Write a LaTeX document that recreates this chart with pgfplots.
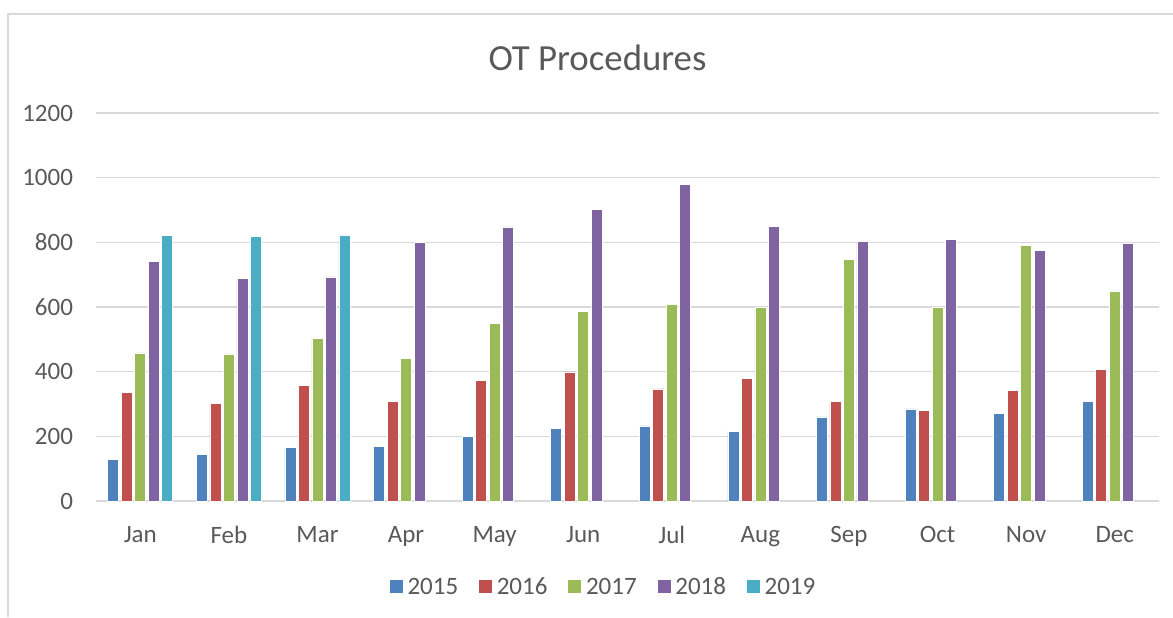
\documentclass[border=0pt]{standalone}
\usepackage{pgfplots}
\pgfplotsset{compat=1.18}
\usepackage{fontspec}
\setmainfont{Carlito}
\definecolor{c15}{HTML}{4F81BD}
\definecolor{c16}{HTML}{C0504D}
\definecolor{c17}{HTML}{9BBB59}
\definecolor{c18}{HTML}{8064A2}
\definecolor{c19}{HTML}{4BACC6}
\definecolor{txt}{HTML}{595959}
\definecolor{gridc}{HTML}{D9D9D9}
\begin{document}
\begin{tikzpicture}
\useasboundingbox (0pt,0pt) rectangle (586.5pt,308.5pt);
\draw[gridc, line width=1pt] (4pt,0pt) -- (4pt,301.5pt) -- (586.5pt,301.5pt);
\node[text=txt, font=\fontsize{18.4}{21}\selectfont] at (298.75pt,279.5pt) {OT Procedures};
\begin{axis}[
  at={(48pt,58pt)}, anchor=south west,
  scale only axis, width=531.5pt, height=194pt,
  xmin=-0.5, xmax=11.5, ymin=0, ymax=1200,
  ytick={0,200,...,1200},
  xtick={0,...,11},
  xticklabels={Jan,Feb,Mar,Apr,May,Jun,Jul,Aug,Sep,Oct,Nov,Dec},
  axis line style={draw=none},
  major tick length=0pt,
  ymajorgrids, grid style={gridc, line width=0.8pt},
  ticklabel style={text=txt, font=\fontsize{12.5}{14}\selectfont},
  /pgf/number format/assume math mode=true,
  /pgf/number format/1000 sep={},
  yticklabel style={xshift=-8pt},
  xticklabel style={yshift=-9pt},
  legend style={at={(0.478,-0.219)}, anchor=center, draw=none, fill=none,
    legend columns=-1, font=\fontsize{12.5}{14}\selectfont, text=txt,
    nodes={text height=8.5pt, text depth=0pt},
    /tikz/every even column/.append style={column sep=8pt}},
  legend image code/.code={\fill[#1] (0pt,-3.5pt) rectangle (7pt,3.5pt);},
]
\addplot[ybar, bar width=5.5pt, bar shift=-13.5pt, fill=c15, draw=white, line width=0.3pt] coordinates {(0,128) (1,145) (2,165) (3,170) (4,200) (5,225) (6,232) (7,215) (8,260) (9,285) (10,270) (11,307)};
\addplot[ybar, bar width=5.5pt, bar shift=-6.75pt, fill=c16, draw=white, line width=0.3pt] coordinates {(0,335) (1,303) (2,357) (3,307) (4,372) (5,399) (6,347) (7,380) (8,308) (9,280) (10,343) (11,407)};
\addplot[ybar, bar width=5.5pt, bar shift=0pt, fill=c17, draw=white, line width=0.3pt] coordinates {(0,458) (1,455) (2,503) (3,440) (4,550) (5,587) (6,609) (7,598) (8,747) (9,600) (10,790) (11,650)};
\addplot[ybar, bar width=5.5pt, bar shift=6.75pt, fill=c18, draw=white, line width=0.3pt] coordinates {(0,741) (1,689) (2,693) (3,800) (4,848) (5,902) (6,979) (7,850) (8,802) (9,808) (10,775) (11,797)};
\addplot[ybar, bar width=5.5pt, bar shift=13.5pt, fill=c19, draw=white, line width=0.3pt] coordinates {(0,822) (1,818) (2,823)};
\legend{2015,2016,2017,2018,2019}
\end{axis}
\end{tikzpicture}
\end{document}
